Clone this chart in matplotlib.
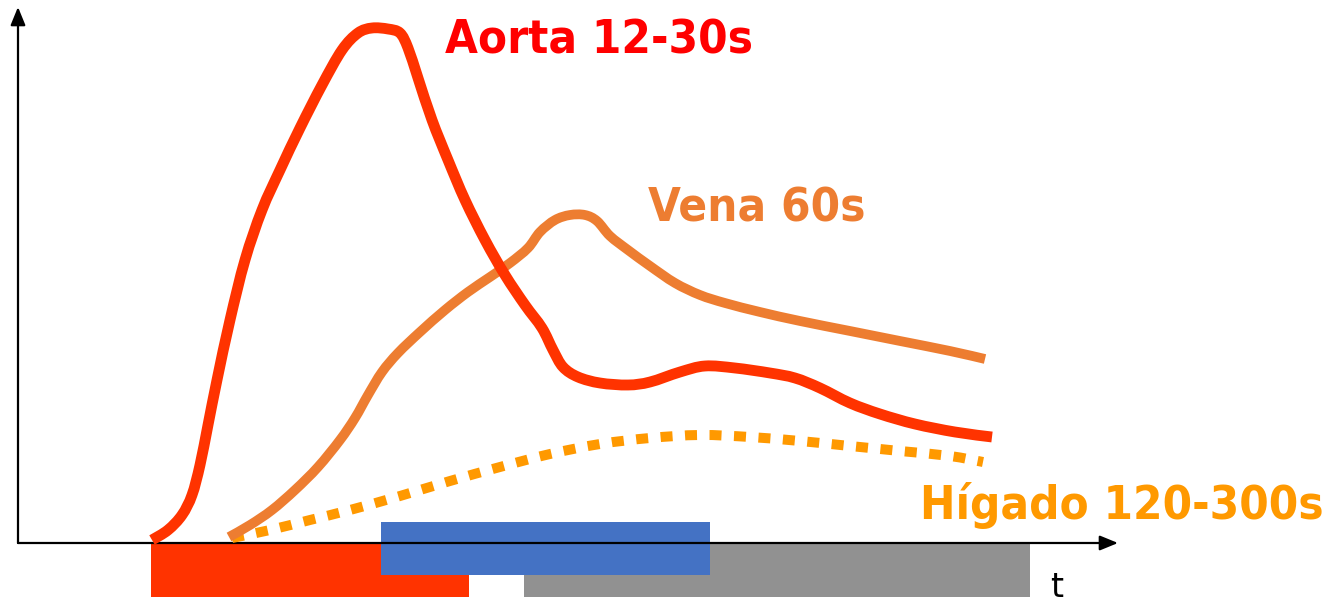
import matplotlib
matplotlib.use("Agg")
import numpy as np
import matplotlib.pyplot as plt
from matplotlib.patches import Rectangle, PathPatch
from matplotlib.path import Path

# Enhancement curves (time, intensity) in arbitrary units
aorta_t = [134, 150, 164, 174, 182, 190, 199, 212, 227, 244, 262, 282, 304, 324, 340, 354,
           370, 382, 390, 400, 414, 430, 447, 467, 487, 507, 524, 535, 545, 560, 582, 610,
           632, 662, 687, 717, 752, 777, 802, 832, 862, 897, 937, 974]
aorta_v = [3, 13, 28, 48, 78, 118, 163, 223, 283, 333, 373, 415, 458, 493, 510, 515,
           514, 510, 495, 465, 423, 383, 343, 303, 268, 238, 215, 193, 176, 166, 160, 158,
           161, 171, 177, 175, 170, 165, 155, 140, 129, 119, 111, 106]

vena_t = [211, 232, 254, 277, 300, 322, 337, 350, 364, 380, 402, 427, 450, 472, 492, 510,
          522, 537, 552, 567, 579, 592, 610, 632, 657, 682, 707, 742, 782, 832, 882, 932, 967]
vena_v = [6, 18, 33, 53, 76, 103, 125, 148, 171, 190, 211, 233, 251, 266, 280, 295,
          311, 323, 328, 328, 322, 307, 293, 277, 260, 248, 240, 231, 222, 212, 202, 192, 184]

higado_t = [214, 252, 292, 332, 382, 432, 482, 532, 582, 632, 682, 732, 782, 832, 882, 932, 965]
higado_v = [5, 13, 23, 33, 47, 62, 76, 89, 99, 105, 108, 106, 102, 97, 92, 87, 81]

# Acquisition phase windows
phase_names = ["arterial", "portal", "tardia"]
phase_start = [133, 363, 506]
phase_end = [451, 692, 1012]
phase_bottom = [-54, -32, -54]
phase_top = [0, 21, 0]
phase_colors = ["#FF3300", "#4472C4", "#919191"]
phase_z = [2, 4, 3]

labels = ["Aorta 12-30s", "Vena 60s", "Hígado 120-300s"]
label_colors = ["#FF0000", "#ED7D31", "#FF9900"]
label_pos = [(427, 489), (630, 321), (902, 24)]


def smooth_path(xs, ys):
    """Cubic Bezier path passing through every point (Catmull-Rom tangents)."""
    p = np.column_stack([xs, ys]).astype(float)
    n = len(p)
    verts = [p[0]]
    codes = [Path.MOVETO]
    for i in range(n - 1):
        p0 = p[i - 1] if i > 0 else p[i]
        p1, p2 = p[i], p[i + 1]
        p3 = p[i + 2] if i + 2 < n else p[i + 1]
        verts += [p1 + (p2 - p0) / 6.0, p2 - (p3 - p1) / 6.0, p2]
        codes += [Path.CURVE4] * 3
    return Path(verts, codes)


fig = plt.figure(figsize=(13.39, 6.04), dpi=100)
ax = fig.add_axes([0, 0, 1, 1])
ax.set_xlim(-18, 1321)
ax.set_ylim(-61, 543)
ax.axis("off")

for s, e, b, t, c, z in zip(phase_start, phase_end, phase_bottom, phase_top, phase_colors, phase_z):
    ax.add_patch(Rectangle((s, b), e - s, t - b, facecolor=c, edgecolor="none", zorder=z))

# Axes with arrowheads
arrow = dict(arrowstyle="-|>,head_length=1.1,head_width=0.45",
             color="black", lw=1.6, shrinkA=0, shrinkB=0)
ax.annotate("", xy=(1100, 0), xytext=(0, 0), arrowprops=arrow, zorder=5)
ax.annotate("", xy=(0, 536), xytext=(0, 0), arrowprops=arrow, zorder=5)

higado = PathPatch(smooth_path(higado_t, higado_v), facecolor="none", edgecolor="#FF9900",
                   lw=7.2, linestyle=(0, (1.2, 1.25)), capstyle="butt", zorder=6)
vena = PathPatch(smooth_path(vena_t, vena_v), facecolor="none", edgecolor="#ED7D31",
                 lw=7, capstyle="butt", joinstyle="round", zorder=7)
aorta = PathPatch(smooth_path(aorta_t, aorta_v), facecolor="none", edgecolor="#FF3300",
                  lw=7.8, capstyle="butt", joinstyle="round", zorder=8)
for patch in (higado, vena, aorta):
    ax.add_patch(patch)

for txt, col, (x, y) in zip(labels, label_colors, label_pos):
    ax.text(x, y, txt, color=col, fontsize=34, fontweight="bold",
            fontstretch="condensed", family="DejaVu Sans", va="baseline", ha="left", zorder=9)

ax.text(1032, -54, "t", color="black", fontsize=24, family="DejaVu Sans",
        va="baseline", ha="left", zorder=9)

fig.savefig("out.png", dpi=100)
